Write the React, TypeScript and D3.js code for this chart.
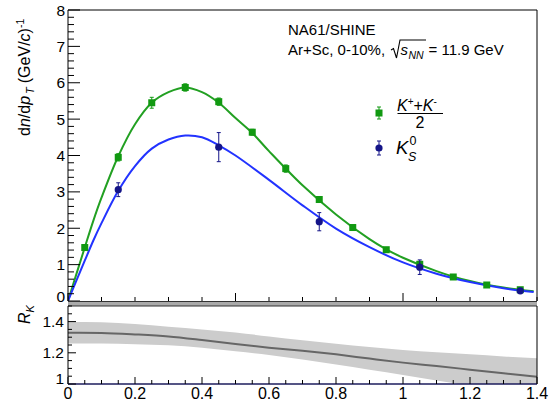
import React from 'react';
import * as d3 from 'd3';

const FONT = "'Liberation Sans', Arial, Helvetica, sans-serif";

// (K+ + K-)/2 data points
const kchPt = [0.05, 0.15, 0.25, 0.35, 0.45, 0.55, 0.65, 0.75, 0.85, 0.95, 1.05, 1.15, 1.25, 1.35];
const kchVal = [1.47, 3.95, 5.45, 5.87, 5.48, 4.64, 3.64, 2.79, 2.02, 1.41, 1.01, 0.66, 0.44, 0.31];
const kchErr = [0.08, 0.1, 0.15, 0.1, 0.1, 0.08, 0.1, 0.08, 0.06, 0.05, 0.04, 0.03, 0.03, 0.02];

// K0S data points
const k0Pt = [0.15, 0.45, 0.75, 1.05, 1.35];
const k0Val = [3.06, 4.23, 2.18, 0.93, 0.28];
const k0Err = [0.19, 0.4, 0.25, 0.2, 0.04];

// fitted curves
const kchFitPt = [0, 0.025, 0.05, 0.075, 0.1, 0.15, 0.2, 0.25, 0.3, 0.35, 0.4, 0.45, 0.5, 0.55, 0.6, 0.7, 0.8, 0.9, 0.95, 1.0, 1.1, 1.15, 1.2, 1.25, 1.3, 1.35, 1.39];
const kchFitVal = [0, 0.74, 1.47, 2.19, 2.84, 3.98, 4.86, 5.45, 5.74, 5.87, 5.74, 5.45, 5.03, 4.62, 4.12, 3.18, 2.38, 1.70, 1.42, 1.19, 0.82, 0.67, 0.55, 0.45, 0.37, 0.31, 0.265];
const k0FitPt = [0, 0.025, 0.05, 0.075, 0.1, 0.15, 0.2, 0.25, 0.3, 0.35, 0.4, 0.45, 0.5, 0.6, 0.7, 0.8, 0.9, 1.0, 1.1, 1.2, 1.3, 1.39];
const k0FitVal = [0, 0.56, 1.11, 1.65, 2.14, 3.03, 3.71, 4.19, 4.44, 4.55, 4.50, 4.28, 4.00, 3.33, 2.63, 1.99, 1.48, 1.06, 0.75, 0.52, 0.35, 0.245];

// R_K ratio with band
const rPt = [0, 0.1, 0.2, 0.3, 0.4, 0.5, 0.6, 0.7, 0.8, 0.9, 1.0, 1.1, 1.2, 1.3, 1.4];
const rVal = [1.329, 1.327, 1.318, 1.305, 1.282, 1.256, 1.233, 1.213, 1.19, 1.163, 1.137, 1.115, 1.092, 1.069, 1.046];
const rHi = [1.398, 1.396, 1.385, 1.367, 1.35, 1.33, 1.305, 1.28, 1.258, 1.237, 1.218, 1.204, 1.19, 1.177, 1.165];
const rLo = [1.26, 1.259, 1.255, 1.248, 1.233, 1.21, 1.186, 1.157, 1.125, 1.092, 1.058, 1.022, 0.99, 0.955, 0.92];

const xTickVals = [0, 0.2, 0.4, 0.6, 0.8, 1.0, 1.2, 1.4];
const xTickLabels = ['0', '0.2', '0.4', '0.6', '0.8', '1', '1.2', '1.4'];
const yTopTicks = [0, 1, 2, 3, 4, 5, 6, 7, 8];
const yBotTicks = [1.0, 1.2, 1.4];
const yBotLabels = ['1', '1.2', '1.4'];

const GREEN = '#119911';
const GREEN_LINE = '#22a022';
const BLUE_LINE = '#2233ff';
const NAVY = '#141488';

const X0 = 68, X1 = 537;
const TOP_B = 301, TOP_T = 10;
const BOT_B = 384, BOT_T = 306;

export default function App() {
  const x = d3.scaleLinear().domain([0, 1.4]).range([X0, X1]);
  const yT = d3.scaleLinear().domain([0, 8]).range([TOP_B, TOP_T]);
  const yB = d3.scaleLinear().domain([1.0, 1.5]).range([BOT_B, BOT_T]);

  const lineT = d3.line<[number, number]>().x(d => x(d[0])).y(d => yT(d[1])).curve(d3.curveCatmullRom);
  const kchPath = lineT(kchFitPt.map((p, i) => [p, kchFitVal[i]]) as [number, number][]) || '';
  const k0Path = lineT(k0FitPt.map((p, i) => [p, k0FitVal[i]]) as [number, number][]) || '';

  const bandArea = d3.area<number>().x((_, i) => x(rPt[i])).y0((_, i) => yB(rLo[i])).y1((_, i) => yB(rHi[i])).curve(d3.curveMonotoneX);
  const rLine = d3.line<number>().x((_, i) => x(rPt[i])).y(d => yB(d)).curve(d3.curveMonotoneX);

  const topMinorX = d3.range(0, 1.4001, 0.1);
  const topMinorY = d3.range(0, 8.001, 0.2);
  const botMinorY = d3.range(1.0, 1.5001, 0.05);
  const botMinorX = d3.range(0, 1.4001, 0.05);

  const sq = 7;

  return (
    <svg width={551} height={401} style={{ position: 'absolute', left: 0, top: 0, background: '#fff' }} fontFamily={FONT}>
      <defs>
        <clipPath id="botclip"><rect x={X0} y={BOT_T} width={X1 - X0} height={BOT_B - BOT_T} /></clipPath>
        <clipPath id="topclip"><rect x={X0} y={TOP_T} width={X1 - X0} height={TOP_B - TOP_T} /></clipPath>
      </defs>
      <rect x={0} y={0} width={551} height={401} fill="#fff" />

      {/* ===== top panel ===== */}
      <g clipPath="url(#topclip)">
        <path d={kchPath} fill="none" stroke={GREEN_LINE} strokeWidth={2} />
        <path d={k0Path} fill="none" stroke={BLUE_LINE} strokeWidth={2} />
      </g>
      {kchPt.map((p, i) => (
        <g key={'g' + i}>
          <line x1={x(p)} x2={x(p)} y1={yT(kchVal[i] - kchErr[i])} y2={yT(kchVal[i] + kchErr[i])} stroke={GREEN} strokeWidth={1} />
          <line x1={x(p) - 2} x2={x(p) + 2} y1={yT(kchVal[i] + kchErr[i])} y2={yT(kchVal[i] + kchErr[i])} stroke={GREEN} strokeWidth={1} />
          <line x1={x(p) - 2} x2={x(p) + 2} y1={yT(kchVal[i] - kchErr[i])} y2={yT(kchVal[i] - kchErr[i])} stroke={GREEN} strokeWidth={1} />
          <rect x={x(p) - sq / 2} y={yT(kchVal[i]) - sq / 2} width={sq} height={sq} fill={GREEN} />
        </g>
      ))}
      {k0Pt.map((p, i) => (
        <g key={'b' + i}>
          <line x1={x(p)} x2={x(p)} y1={yT(k0Val[i] - k0Err[i])} y2={yT(k0Val[i] + k0Err[i])} stroke={NAVY} strokeWidth={1} />
          <line x1={x(p) - 2} x2={x(p) + 2} y1={yT(k0Val[i] + k0Err[i])} y2={yT(k0Val[i] + k0Err[i])} stroke={NAVY} strokeWidth={1} />
          <line x1={x(p) - 2} x2={x(p) + 2} y1={yT(k0Val[i] - k0Err[i])} y2={yT(k0Val[i] - k0Err[i])} stroke={NAVY} strokeWidth={1} />
          <circle cx={x(p)} cy={yT(k0Val[i])} r={3.6} fill={NAVY} />
        </g>
      ))}

      {/* top frame */}
      <line x1={X0} x2={X1} y1={TOP_T} y2={TOP_T} stroke="#000" strokeWidth={1} />
      <line x1={X1} x2={X1} y1={TOP_T} y2={TOP_B} stroke="#000" strokeWidth={1} />
      <line x1={X0} x2={X0} y1={TOP_T} y2={TOP_B} stroke="#000" strokeWidth={1} />
      {topMinorY.map((v, i) => {
        const major = Math.abs(v - Math.round(v)) < 1e-6;
        return <line key={'ty' + i} x1={X0} x2={X0 + (major ? 12 : 6)} y1={yT(v)} y2={yT(v)} stroke="#000" strokeWidth={1} />;
      })}
      {yTopTicks.map(v => (
        <text key={'tyl' + v} x={65} y={yT(v) + (v === 0 ? 1 : 5.5)} textAnchor="end" fontSize={15.5} fill="#000">{v}</text>
      ))}
      {topMinorX.map((v, i) => {
        const major = Math.abs(v * 2 - Math.round(v * 2)) < 1e-6;
        return <line key={'tx' + i} x1={x(v)} x2={x(v)} y1={TOP_B} y2={TOP_B - (major ? 8 : 4)} stroke="#000" strokeWidth={1} />;
      })}

      {/* separator between panels */}
      <rect x={X0} y={301.5} width={X1 - X0} height={4.5} fill="#aaa" />
      <line x1={X0} x2={X1} y1={301.5} y2={301.5} stroke="#333" strokeWidth={1} />
      <line x1={X0} x2={X1} y1={306} y2={306} stroke="#333" strokeWidth={1} />

      {/* ===== bottom panel ===== */}
      <g clipPath="url(#botclip)">
        <path d={bandArea(rPt) || ''} fill="#cccccc" />
        <path d={rLine(rVal) || ''} fill="none" stroke="#666" strokeWidth={2} />
      </g>
      <line x1={X0} x2={X0} y1={BOT_T} y2={BOT_B} stroke="#000" strokeWidth={1} />
      <line x1={X1} x2={X1} y1={BOT_T} y2={BOT_B} stroke="#000" strokeWidth={1} />
      <line x1={X0} x2={X1} y1={BOT_B} y2={BOT_B} stroke="#1c1c5c" strokeWidth={1.5} />
      {botMinorY.map((v, i) => {
        const major = Math.abs(v * 5 - Math.round(v * 5)) < 1e-6;
        return <line key={'by' + i} x1={X0} x2={X0 + (major ? 8 : 4)} y1={yB(v)} y2={yB(v)} stroke="#000" strokeWidth={1} />;
      })}
      {yBotTicks.map((v, i) => (
        <text key={'byl' + i} x={64} y={yB(v) + (i === 0 ? 0 : 5.5)} textAnchor="end" fontSize={15.5} fill="#000">{yBotLabels[i]}</text>
      ))}
      {botMinorX.map((v, i) => {
        const major = Math.abs(v * 5 - Math.round(v * 5)) < 1e-6;
        return <line key={'bx' + i} x1={x(v)} x2={x(v)} y1={BOT_B} y2={BOT_B - (major ? 7 : 4)} stroke="#000" strokeWidth={1} />;
      })}
      {xTickVals.map((v, i) => (
        <text key={'bxl' + i} x={x(v)} y={399} textAnchor="middle" fontSize={16} fill="#000">{xTickLabels[i]}</text>
      ))}

      {/* axis titles */}
      <text transform="translate(30,136) rotate(-90)" fontSize={16} fill="#000">
        <tspan>d</tspan><tspan fontStyle="italic">n</tspan><tspan>/d</tspan><tspan fontStyle="italic">p</tspan>
        <tspan fontSize={11} fontStyle="italic" dy={4} dx={2}>T</tspan>
        <tspan dy={-4} dx={4}>(GeV/</tspan><tspan fontStyle="italic">c</tspan><tspan>)</tspan>
        <tspan fontSize={10.5} dy={-6}>-1</tspan>
      </text>
      <text transform="translate(30,324) rotate(-90)" fontSize={16} fill="#000">
        <tspan fontStyle="italic">R</tspan>
        <tspan fontSize={11} fontStyle="italic" dy={4}>K</tspan>
      </text>

      {/* header text */}
      <text x={288} y={35} fontSize={15} fill="#000">NA61/SHINE</text>
      <text x={288} y={55} fontSize={15} fill="#000">Ar+Sc, 0-10%,</text>
      <path d="M391,50 L393.5,48.5 L396.5,58 L400,40 L426,40" fill="none" stroke="#000" strokeWidth={1.1} />
      <text x={400.5} y={55} fontSize={15} fontStyle="italic" fill="#000">s</text>
      <text x={408.5} y={59} fontSize={10.5} fontStyle="italic" fill="#000">NN</text>
      <text x={428.5} y={55} fontSize={15} fill="#000">= 11.9 GeV</text>

      {/* legend */}
      <g>
        <line x1={379} x2={379} y1={107} y2={119} stroke={GREEN} strokeWidth={1} />
        <line x1={377} x2={381} y1={107} y2={107} stroke={GREEN} strokeWidth={1} />
        <line x1={377} x2={381} y1={119} y2={119} stroke={GREEN} strokeWidth={1} />
        <rect x={379 - sq / 2} y={113 - sq / 2} width={sq} height={sq} fill={GREEN} />
        <text x={397} y={111} fontSize={16} fill="#000">
          <tspan fontStyle="italic">K</tspan><tspan fontSize={10} dy={-6}>+</tspan>
          <tspan dy={6}>+</tspan><tspan fontStyle="italic">K</tspan><tspan fontSize={10} dy={-6}>-</tspan>
        </text>
        <line x1={397.5} x2={443} y1={113.5} y2={113.5} stroke="#000" strokeWidth={1.2} />
        <text x={420} y={127.5} fontSize={16} textAnchor="middle" fill="#000">2</text>

        <line x1={379} x2={379} y1={141} y2={155} stroke={NAVY} strokeWidth={1} />
        <line x1={377} x2={381} y1={141} y2={141} stroke={NAVY} strokeWidth={1} />
        <line x1={377} x2={381} y1={155} y2={155} stroke={NAVY} strokeWidth={1} />
        <circle cx={379} cy={148} r={3.6} fill={NAVY} />
        <text x={396} y={153.5} fontSize={18.5} fontStyle="italic" fill="#000">K</text>
        <text x={409.5} y={145} fontSize={12.5} fill="#000">0</text>
        <text x={408} y={160.5} fontSize={12.5} fontStyle="italic" fill="#000">S</text>
      </g>
    </svg>
  );
}
